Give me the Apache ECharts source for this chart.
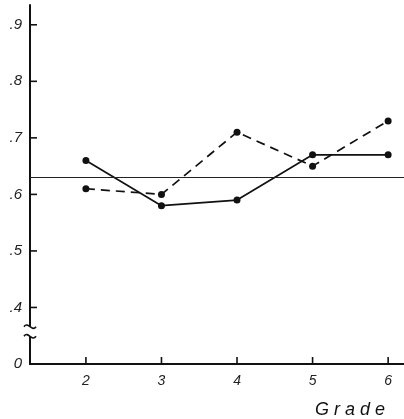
<!DOCTYPE html>
<html>
<head>
<meta charset="utf-8">
<script src="https://cdn.jsdelivr.net/npm/echarts@6/dist/echarts.min.js"></script>
<style>
  html, body { margin: 0; padding: 0; background: #fff; }
  #chart { width: 404px; height: 419px; }
</style>
</head>
<body>
<div id="chart"></div>
<script>
// datos
const grades = [2, 3, 4, 5, 6];
const solidValues = [0.66, 0.58, 0.59, 0.67, 0.67];
const dashedValues = [0.61, 0.60, 0.71, 0.65, 0.73];
const referenceLevel = 0.63;
const yTicks = [0.3, 0.4, 0.5, 0.6, 0.7, 0.8, 0.9];
// 0.3 en el eje se dibuja como "0" (eje cortado)
const yTickLabels = ['0', '.4', '.5', '.6', '.7', '.8', '.9'];

const chart = echarts.init(document.getElementById('chart'));
const font = 'Liberation Sans';

const option = {
  animation: false,
  title: {
    text: 'G r a d e',
    right: 14,
    top: 396,
    textStyle: { fontFamily: font, fontStyle: 'italic', fontWeight: 'normal', fontSize: 18, color: '#111' }
  },
  grid: { left: 30, right: 0, top: 5, bottom: 55 },
  xAxis: {
    type: 'value',
    min: 1.26,
    max: 6.21,
    splitLine: { show: false },
    axisLine: { lineStyle: { color: '#111', width: 2 } },
    axisTick: { show: false },
    axisLabel: {
      customValues: grades,
      margin: 10,
      fontFamily: font, fontStyle: 'italic', fontSize: 14, color: '#222'
    }
  },
  yAxis: {
    type: 'value',
    min: 0.3,
    max: 0.935,
    splitLine: { show: false },
    axisLine: { show: true, lineStyle: { color: '#111', width: 2 } },
    axisTick: { show: false },
    axisLabel: {
      customValues: yTicks,
      margin: 8,
      fontFamily: font, fontStyle: 'italic', fontSize: 15, color: '#222',
      formatter: v => yTickLabels[yTicks.findIndex(t => Math.abs(t - v) < 1e-6)] || ''
    }
  },
  series: [
    {
      type: 'line',
      data: grades.map((g, i) => [g, solidValues[i]]),
      symbol: 'circle',
      symbolSize: 7,
      itemStyle: { color: '#111' },
      lineStyle: { color: '#111', width: 1.7 },
      markLine: {
        silent: true,
        symbol: 'none',
        label: { show: false },
        lineStyle: { color: '#222', width: 1.2, type: 'solid' },
        data: [{ yAxis: referenceLevel }]
      },
      z: 3
    },
    {
      type: 'line',
      data: grades.map((g, i) => [g, dashedValues[i]]),
      symbol: 'circle',
      symbolSize: 7,
      itemStyle: { color: '#111' },
      lineStyle: { color: '#111', width: 1.7, type: [9, 6] },
      z: 3
    }
  ]
};

chart.setOption(option);

// marcas de los ejes y corte del eje Y, posiciones tomadas de las escalas
const ax = chart.convertToPixel({ xAxisIndex: 0 }, 1.26);
const ay = chart.convertToPixel({ yAxisIndex: 0 }, 0.3);
const graphics = [];
grades.forEach(g => {
  const x = chart.convertToPixel({ xAxisIndex: 0 }, g);
  graphics.push({ type: 'rect', shape: { x: x - 0.8, y: ay - 7, width: 1.6, height: 7 }, style: { fill: '#111' }, z: 40 });
});
yTicks.slice(1).forEach(v => {
  const y = chart.convertToPixel({ yAxisIndex: 0 }, v);
  graphics.push({ type: 'rect', shape: { x: ax, y: y - 0.8, width: 7, height: 1.6 }, style: { fill: '#111' }, z: 40 });
});
const yTop = chart.convertToPixel({ yAxisIndex: 0 }, 0.366);
const yBot = chart.convertToPixel({ yAxisIndex: 0 }, 0.349);
graphics.push({ type: 'rect', shape: { x: ax - 3, y: yTop, width: 6, height: yBot - yTop }, style: { fill: '#fff' }, z: 50 });
[yTop, yBot].forEach(y => {
  graphics.push({
    type: 'bezierCurve',
    shape: { x1: ax - 6, y1: y, x2: ax + 6, y2: y, cpx1: ax - 2, cpy1: y - 6, cpx2: ax + 2, cpy2: y + 6 },
    style: { stroke: '#111', lineWidth: 1.6, fill: null },
    z: 51
  });
});
chart.setOption({ graphic: graphics });
</script>
</body>
</html>
